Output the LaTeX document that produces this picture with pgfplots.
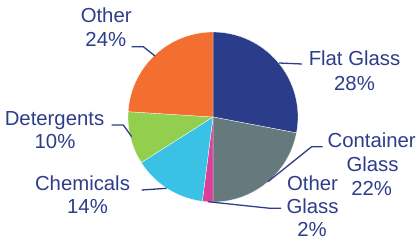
\documentclass[border=0pt]{standalone}
\usepackage{pgfplots}
\usepackage{pgfplotstable}
\pgfplotsset{compat=1.18}
\usepackage{fontspec}
\setmainfont{Liberation Sans}
\definecolor{txt}{HTML}{2E3D8A}
\definecolor{c0}{HTML}{2B3D8A}
\definecolor{c1}{HTML}{667A7E}
\definecolor{c2}{HTML}{DB3F98}
\definecolor{c3}{HTML}{3AC2E6}
\definecolor{c4}{HTML}{92CF4F}
\definecolor{c5}{HTML}{F26E31}
\pgfplotstableread{
label pct
FlatGlass 28
ContainerGlass 22
OtherGlass 2
Chemicals 14
Detergents 10
Other 24
}\piedata
\tikzset{lbl/.style={font=\fontsize{20.4}{24}\selectfont,text=txt,inner sep=0pt,anchor=base}}
\begin{document}
\begin{tikzpicture}
\xdef\cum{0}
\foreach \i in {0,...,5}{%
  \pgfplotstablegetelem{\i}{pct}\of\piedata
  \edef\p{\pgfplotsretval}%
  \pgfmathsetmacro\s{90-3.6*\cum}%
  \pgfmathsetmacro\e{90-3.6*(\cum+\p)}%
  \expandafter\xdef\csname pieS\i\endcsname{\s}%
  \expandafter\xdef\csname pieE\i\endcsname{\e}%
  \pgfmathsetmacro\nc{\cum+\p}%
  \xdef\cum{\nc}%
}
\begin{axis}[x=1bp,y=1bp,xmin=0,xmax=420,ymin=0,ymax=243,hide axis,clip=false]
\path (axis cs:0,0) rectangle (axis cs:420,243);
\pgfplotsinvokeforeach{0,...,5}{%
  \fill[c#1,draw=white,line width=0.3bp] (axis cs:213,126) -- +(\csname pieS#1\endcsname:85bp)
    arc[start angle=\csname pieS#1\endcsname, end angle=\csname pieE#1\endcsname, radius=85bp] -- cycle;
}
% leader lines
\draw[txt,line width=1.3bp] (axis cs:279,180) -- (axis cs:302,179);
\draw[txt,line width=1.3bp] (axis cs:268,61.3) -- (axis cs:311.7,96.3) -- (axis cs:322.7,96.3);
\draw[txt,line width=1.3bp] (axis cs:208,41.3) -- (axis cs:270,34.7) -- (axis cs:281,34.7);
\draw[txt,line width=1.3bp] (axis cs:166.7,54.7) -- (axis cs:141.7,53);
\draw[txt,line width=1.3bp] (axis cs:111.7,118) -- (axis cs:123.3,118) -- (axis cs:131.7,106.3);
\draw[txt,line width=1.3bp] (axis cs:131.7,196.3) -- (axis cs:143.3,196.3) -- (axis cs:155,187);
% labels
\node[lbl] at (axis cs:354.5,178) {Flat Glass};
\node[lbl] at (axis cs:354.5,153) {28\%};
\node[lbl] at (axis cs:371.7,96) {Container};
\node[lbl] at (axis cs:372.5,71.3) {Glass};
\node[lbl] at (axis cs:371.7,48) {22\%};
\node[lbl] at (axis cs:312.5,52.3) {Other};
\node[lbl] at (axis cs:312.5,29.7) {Glass};
\node[lbl] at (axis cs:312,6.3) {2\%};
\node[lbl] at (axis cs:82.5,53) {Chemicals};
\node[lbl] at (axis cs:87.5,29.7) {14\%};
\node[lbl] at (axis cs:54.5,118) {Detergents};
\node[lbl] at (axis cs:55,94.7) {10\%};
\node[lbl] at (axis cs:106.2,220.3) {Other};
\node[lbl] at (axis cs:105.8,196.3) {24\%};
\end{axis}
\end{tikzpicture}
\end{document}
